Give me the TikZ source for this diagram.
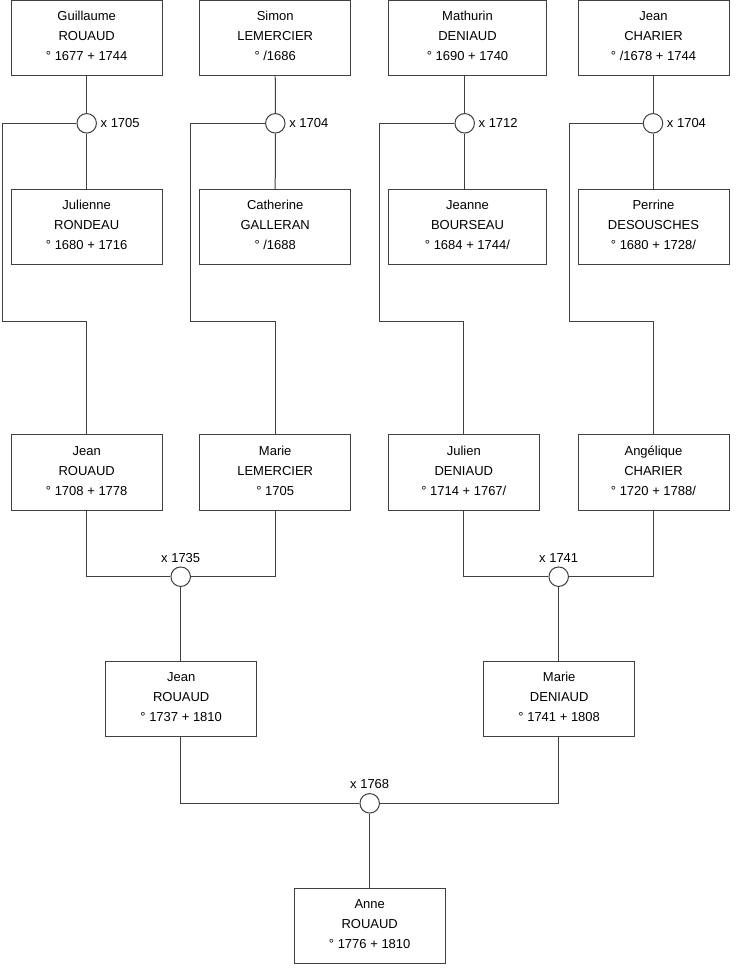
\documentclass[tikz,border=0pt]{standalone}
\usepackage{fontspec}
\setmainfont{Liberation Sans}
\usetikzlibrary{positioning}

\begin{document}
\begin{tikzpicture}[
  x=1pt, y=-1pt,
  every node/.style = {font=\fontsize{13}{20}\selectfont},
  person/.style = {draw=black!75, line width=1pt, rectangle, minimum width=151pt,
                   minimum height=75.5pt, inner sep=0pt, align=center,
                   text height=50pt, text depth=5pt},
  wide/.style   = {minimum width=158.5pt},
  wed/.style    = {draw=black!75, line width=1pt, fill=white, circle,
                   minimum size=19.5pt, inner sep=0pt},
  year/.style   = {inner sep=0pt},
  link/.style   = {draw=black!75, line width=1pt},
]
\useasboundingbox (0,0) rectangle (740,975);

% ── Row 1: great-grandfathers ───────────────────────────────────────────────
\node[person]       (guillaume) at (86.7, 38.2)  {Guillaume\\ROUAUD\\° 1677 + 1744};
\node[person]       (simon)     at (275.2, 38.2) {Simon\\LEMERCIER\\° /1686};
\node[person, wide] (mathurin)  at (467.5, 38.2) {Mathurin\\DENIAUD\\° 1690 + 1740};
\node[person]       (jeanC)     at (653.5, 38.2) {Jean\\CHARIER\\° /1678 + 1744};

% ── Marriages of row 1/2 ────────────────────────────────────────────────────
\node[wed] (m1705)  at (86.7, 123.3)  {};
\node[wed] (m1704a) at (275.3, 123.3) {};
\node[wed] (m1712)  at (464.7, 123.3) {};
\node[wed] (m1704b) at (653.0, 123.3) {};
\node[year, right=3.5pt of m1705]  (l1705)  {x 1705};
\node[year, right=3.5pt of m1704a] (l1704a) {x 1704};
\node[year, right=3.5pt of m1712]  (l1712)  {x 1712};
\node[year, right=3.5pt of m1704b] (l1704b) {x 1704};

% ── Row 2: great-grandmothers ───────────────────────────────────────────────
\node[person]       (julienne)  at (86.7, 227.2)  {Julienne\\RONDEAU\\° 1680 + 1716};
\node[person]       (catherine) at (275.2, 227.2) {Catherine\\GALLERAN\\° /1688};
\node[person, wide] (jeanne)    at (467.5, 227.2) {Jeanne\\BOURSEAU\\° 1684 + 1744/};
\node[person]       (perrine)   at (653.5, 227.2) {Perrine\\DESOUSCHES\\° 1680 + 1728/};

\draw[link] (guillaume) -- (m1705) -- (julienne);
\draw[link] (simon) -- (m1704a) -- (catherine);
\draw[link] (m1712 |- mathurin.south) -- (m1712) -- (m1712 |- jeanne.north);
\draw[link] (m1704b |- jeanC.south) -- (m1704b) -- (m1704b |- perrine.north);

% ── Row 3: grandparents ─────────────────────────────────────────────────────
\node[person] (jeanR)     at (86.7, 472.5)  {Jean\\ROUAUD\\° 1708 + 1778};
\node[person] (marieL)    at (275.2, 472.5) {Marie\\LEMERCIER\\° 1705};
\node[person] (julien)    at (463.8, 472.5) {Julien\\DENIAUD\\° 1714 + 1767/};
\node[person] (angelique) at (653.5, 472.5) {Angélique\\CHARIER\\° 1720 + 1788/};

\coordinate (bend1) at (2, 321);
\coordinate (bend2) at (190, 321);
\coordinate (bend3) at (379, 321);
\coordinate (bend4) at (569, 321);
\draw[link] (m1705)  -| (bend1) -| (jeanR);
\draw[link] (m1704a) -| (bend2) -| (marieL);
\draw[link] (m1712)  -| (bend3) -| (julien);
\draw[link] (m1704b) -| (bend4) -| (angelique);

% ── Row 4: parents ──────────────────────────────────────────────────────────
\node[wed] (m1735) at (180.7, 576.7) {};
\node[wed] (m1741) at (558.7, 576.7) {};
\node[year, above=4pt of m1735] (l1735) {x 1735};
\node[year, above=4pt of m1741] (l1741) {x 1741};

\node[person] (jean2)  at (181.2, 699.2) {Jean\\ROUAUD\\° 1737 + 1810};
\node[person] (marieD) at (559.2, 699.2) {Marie\\DENIAUD\\° 1741 + 1808};

\draw[link] (jeanR) |- (m1735);
\draw[link] (marieL) |- (m1735);
\draw[link] (m1735) -- (m1735 |- jean2.north);
\draw[link] (julien) |- (m1741);
\draw[link] (angelique) |- (m1741);
\draw[link] (m1741) -- (m1741 |- marieD.north);

% ── Row 5: Anne ─────────────────────────────────────────────────────────────
\node[wed] (m1768) at (369.7, 803.3) {};
\node[year, above=4pt of m1768] (l1768) {x 1768};
\node[person] (anne) at (369.7, 926.2) {Anne\\ROUAUD\\° 1776 + 1810};

\draw[link] (m1735 |- jean2.south) |- (m1768);
\draw[link] (m1741 |- marieD.south) |- (m1768);
\draw[link] (m1768) -- (anne);

\end{tikzpicture}
\end{document}
